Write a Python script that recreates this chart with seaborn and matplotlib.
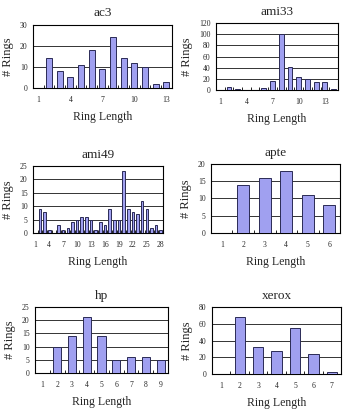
import numpy as np
import pandas as pd
import matplotlib
matplotlib.use("Agg")
import matplotlib.pyplot as plt
import seaborn as sns

sns.set_style("white")
plt.rcParams['font.family'] = ['Liberation Serif', 'DejaVu Serif']

# ---- data ----
ac3_len = list(range(1, 14))
ac3_cnt = [0, 14, 8, 5, 11, 18, 9, 24, 14, 12, 10, 2, 3]

ami33_len = list(range(1, 15))
ami33_cnt = [0, 5, 1, 0, 0, 3, 17, 100, 41, 24, 19, 14, 14, 2]

ami49_len = list(range(1, 29))
ami49_cnt = [0, 9, 8, 1, 0, 3, 1, 2, 4, 5, 6, 6, 5, 1, 4, 3, 9, 5, 5, 23,
             9, 8, 7, 12, 9, 2, 3, 1]

apte_len = list(range(1, 7))
apte_cnt = [0, 14, 16, 18, 11, 8]

hp_len = list(range(1, 10))
hp_cnt = [0, 10, 14, 21, 14, 5, 6, 6, 5]

xerox_len = list(range(1, 8))
xerox_cnt = [0, 68, 33, 28, 55, 24, 3]

panels = [
    ("ac3", ac3_len, ac3_cnt, 3, (0, 30), 10, [0.095, 0.787, 0.400, 0.153]),
    ("ami33", ami33_len, ami33_cnt, 3, (0, 120), 20, [0.622, 0.782, 0.352, 0.162]),
    ("ami49", ami49_len, ami49_cnt, 3, (0, 25), 5, [0.095, 0.436, 0.375, 0.162]),
    ("apte", apte_len, apte_cnt, 1, (0, 20), 5, [0.608, 0.436, 0.372, 0.167]),
    ("hp", hp_len, hp_cnt, 1, (0, 25), 5, [0.101, 0.097, 0.383, 0.160]),
    ("xerox", xerox_len, xerox_cnt, 1, (0, 80), 20, [0.611, 0.094, 0.372, 0.162]),
]

fig = plt.figure(figsize=(3.47, 4.13), dpi=100)
bar_color = '#A0A0F0'
edge_color = '#2a2a55'

for title, lens, cnts, step, ylim, ystep, rect in panels:
    ax = fig.add_axes(rect)
    df = pd.DataFrame({"len": lens, "cnt": cnts})
    sns.barplot(data=df, x="len", y="cnt", order=lens, color=bar_color,
                saturation=1, edgecolor=edge_color, linewidth=0.7,
                width=0.55, ax=ax, zorder=3)
    n = len(lens)
    ax.set_xlim(-0.5, n - 0.5)
    ax.set_ylim(*ylim)
    yt = np.arange(ylim[0], ylim[1] + 0.1, ystep)
    ax.set_yticks(yt)
    ax.set_yticklabels([f"{int(v)}" for v in yt])
    ax.yaxis.grid(True, color='#333333', linewidth=0.7, zorder=0)
    ax.set_axisbelow(True)
    idx = list(range(0, n, step))
    ax.set_xticks(idx)
    ax.set_xticklabels([str(lens[i]) for i in idx])
    ax.set_xticks(np.arange(0.5, n - 0.5, 1), minor=True)
    ax.tick_params(axis='x', which='major', length=0, labelsize=5.5, pad=5.5)
    ax.tick_params(axis='x', which='minor', length=2, direction='in',
                   width=0.6, color='black', bottom=True)
    ax.tick_params(axis='y', length=0, labelsize=5.5, pad=4)
    for s in ax.spines.values():
        s.set_visible(True)
        s.set_color('black')
        s.set_linewidth(0.8)
    ax.set_title(title, fontsize=9.5, pad=6)
    ax.set_xlabel("Ring Length", fontsize=8.5, labelpad=5)
    ax.set_ylabel("# Rings", fontsize=9, labelpad=4)

fig.savefig("out.png", dpi=100)
